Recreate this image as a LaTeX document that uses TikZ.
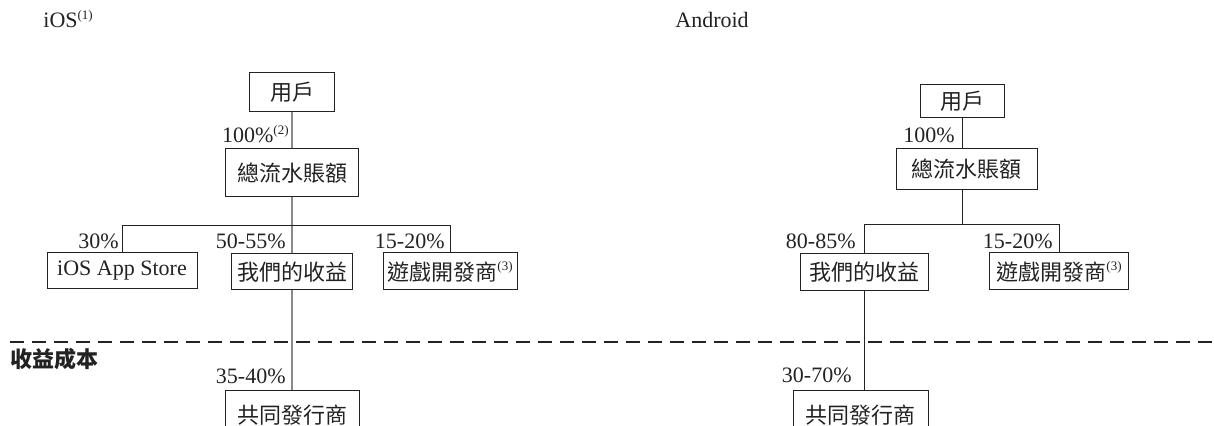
\documentclass[tikz,border=0pt]{standalone}
\usepackage{fontspec}
\setmainfont{Liberation Serif}
\newfontfamily\cjk{Noto Sans CJK TC}
\usetikzlibrary{calc}
\definecolor{ink}{HTML}{222222}
\definecolor{trunk}{HTML}{8A8A8A}
\newcommand\noteref[1]{\raisebox{0.85ex}{\rmfamily\fontsize{6.5}{7}\selectfont(#1)}}
\tikzset{
  box/.style={draw=ink, line width=0.5pt, inner sep=0pt, text=ink, font=\cjk\fontsize{11}{13}\selectfont},
  link/.style={draw=ink, line width=0.5pt},
  stem/.style={draw=trunk, line width=0.9pt},
  pct/.style={text=ink, inner sep=0pt, font=\fontsize{11}{13}\selectfont},
  head/.style={text=ink, inner sep=0pt, font=\fontsize{11}{13}\selectfont},
  cut/.style={draw=ink, line width=1pt, dash pattern=on 7pt off 4pt},
}

\begin{document}
\begin{tikzpicture}[x=0.5pt, y=-0.5pt]
  \clip (0,0) rectangle (1214,426);

  % headings
  \node[head, anchor=base west] (iosH) at (43,28) {iOS\noteref{1}};
  \node[head, anchor=base west] (andH) at (675,28) {Android};
  \node[head, anchor=base west, font=\cjk\bfseries\fontsize{11}{13}\selectfont] (costH) at (10,368) {收益成本};

  \coordinate (cutL) at (10,342);
  \coordinate (cutR) at (1214,342);
  \draw[cut] (cutL) -- (cutR);

  % iOS
  \node[box, minimum width=42.5pt, minimum height=19.5pt] (iosU) at (292,92.5) {用戶};
  \node[box, minimum width=66.5pt, minimum height=24pt] (iosT) at (292,173) {總流水賬額};
  \node[box, minimum width=75pt, minimum height=18pt] (iosA) at (122,271) {\rmfamily iOS App Store};
  \node[box, minimum width=60.5pt, minimum height=18pt] (iosR) at (292,272) {我們的收益};
  \node[box, minimum width=67pt, minimum height=18.5pt] (iosD) at (450,271.5) {遊戲開發商\noteref{3}};
  \node[box, minimum width=67pt, minimum height=24pt] (iosC) at (292,415) {共同發行商};
  \coordinate (iosJ) at (292,226);

  \draw[stem] (iosU.south) -- (iosT.north);
  \draw[stem] (iosT.south) -- (iosR.north);
  \draw[stem] (iosR.south) -- (iosC.north);
  \draw[link] (iosA.north) -- (iosA.north |- iosJ) -- (iosD.north |- iosJ) -- (iosD.north);

  \node[pct, anchor=base east] (iosP0) at (289,143) {100\%\noteref{2}};
  \node[pct, anchor=base east] (iosP1) at (119,249) {30\%};
  \node[pct, anchor=base east] (iosP2) at (286,249) {50-55\%};
  \node[pct, anchor=base east] (iosP3) at (445,249) {15-20\%};
  \node[pct, anchor=base east] (iosP4) at (286,384) {35-40\%};

  % Android
  \node[box, minimum width=42pt, minimum height=16.5pt] (andU) at (962,101.5) {用戶};
  \node[box, minimum width=70.5pt, minimum height=20.5pt] (andT) at (966.5,169.5) {總流水賬額};
  \node[box, minimum width=64pt, minimum height=18.5pt] (andR) at (864,272.5) {我們的收益};
  \node[box, minimum width=69.5pt, minimum height=18.5pt] (andD) at (1059,271.5) {遊戲開發商\noteref{3}};
  \node[box, minimum width=67.5pt, minimum height=24pt] (andC) at (860.5,415) {共同發行商};
  \coordinate (andJ) at (962,225);

  \draw[link] (andU.south) -- (andU.south |- andT.north);
  \draw[link] (andU.south |- andT.south) -- (andJ);
  \draw[link] (andR.north) -- (andR.north |- andJ) -- (andD.north |- andJ) -- (andD.north);
  \draw[link] (andR.south) -- (andR.south |- andC.north);

  \node[pct, anchor=base east] (andP0) at (955,143) {100\%};
  \node[pct, anchor=base east] (andP1) at (856,249) {80-85\%};
  \node[pct, anchor=base east] (andP2) at (1053,249) {15-20\%};
  \node[pct, anchor=base east] (andP3) at (852,383) {30-70\%};
\end{tikzpicture}
\end{document}
